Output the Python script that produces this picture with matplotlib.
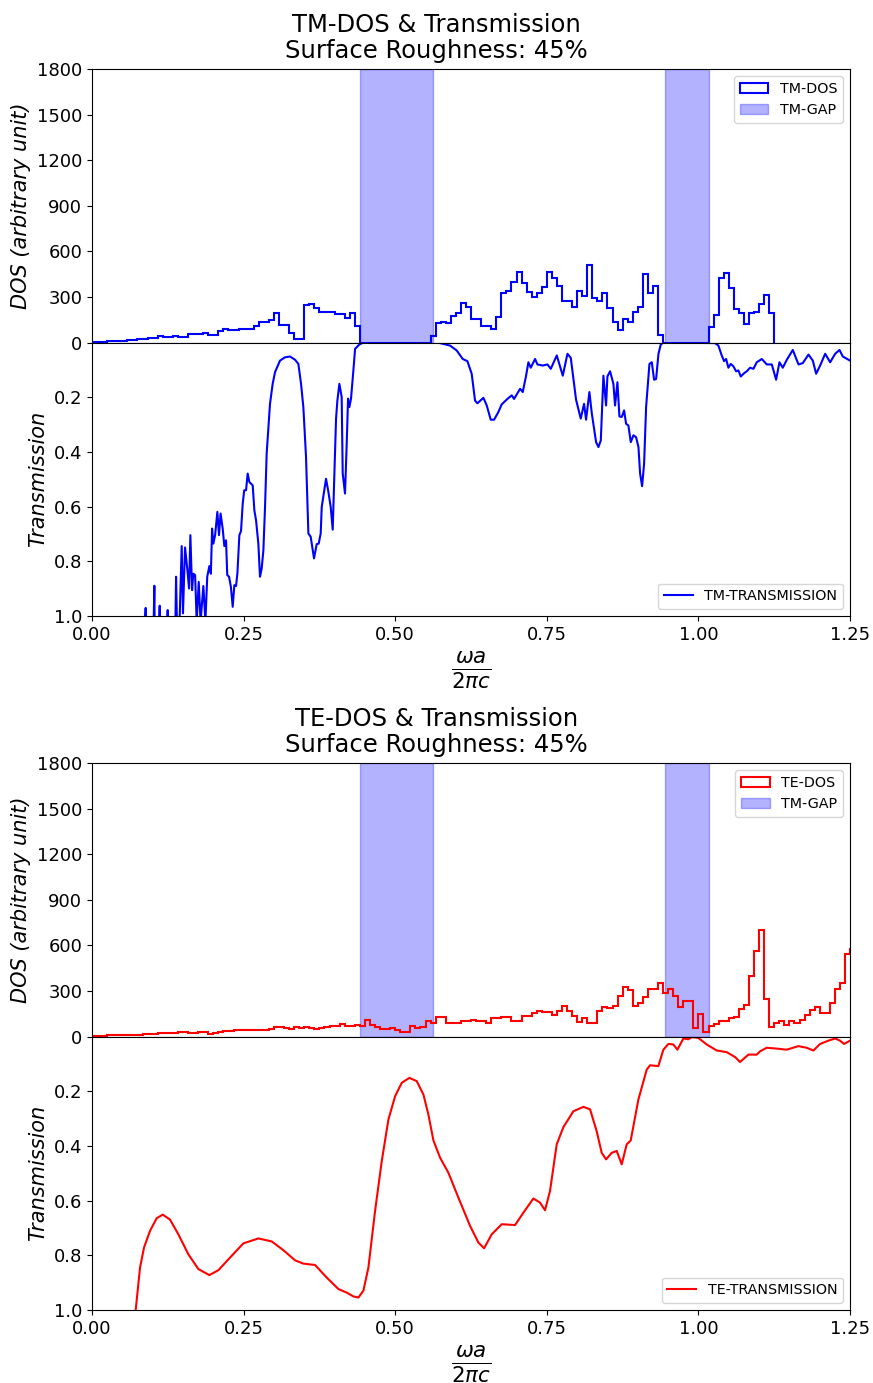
import numpy as np
import matplotlib
matplotlib.use("Agg")
import matplotlib.pyplot as plt

# --- histogram binning of the mode frequencies (omega a / 2 pi c) ---
BIN_WIDTH = 1.25 / 150

# TM density of states per bin (starting at 0)
tm_dos = [2, 3, 3, 10, 10, 10, 10, 17, 17, 24, 24, 33, 33, 40, 35, 35, 44, 35, 35, 59,
          59, 59, 62, 52, 52, 75, 90, 80, 80, 92, 92, 92, 110, 136, 136, 147, 196, 114, 114, 64,
          22, 22, 248, 253, 229, 198, 198, 198, 191, 191, 160, 196, 112,
          0, 0, 0, 0, 0, 0, 0, 0, 0, 0, 0, 0, 0, 0,
          44, 130, 138, 130, 174, 196, 261, 231, 158, 158, 110, 110, 92, 165, 323, 338, 400,
          464, 393, 334, 297, 323, 367, 466, 422, 373, 275, 275, 235, 338, 305, 510, 290, 275,
          327, 228, 135, 81, 158, 136, 202, 235, 450, 327, 371, 48,
          0, 0, 0, 0, 0, 0, 0, 0, 0,
          103, 180, 428, 459, 356, 224, 196, 121, 196, 202, 253, 316, 196]

# TE density of states per bin (starting at 0)
te_dos = [2, 4, 5, 7, 7, 8, 9, 9, 8, 9, 15, 17, 20, 22, 24, 25, 26, 28, 31, 26,
          24, 31, 27, 20, 25, 29, 35, 37, 42, 46, 42, 40, 40, 40, 42, 50, 62, 62, 55, 48,
          62, 55, 60, 55, 53, 55, 62, 68, 72, 81, 70, 72, 77, 70, 110, 77, 60, 48, 52, 55,
          44, 33, 30, 72, 55, 65, 100, 88, 127, 127, 88, 92, 92, 105, 105, 110, 100, 100, 92, 121,
          121, 127, 127, 105, 105, 136, 136, 154, 171, 160, 160, 143, 169, 202, 165, 132, 97, 121, 92, 92,
          165, 193, 187, 204, 264, 327, 305, 202, 220, 262, 310, 310, 352, 286, 310, 264, 193, 235, 235, 55,
          149, 33, 70, 83, 105, 105, 121, 127, 180, 209, 400, 560, 703, 246, 66, 88, 105, 77, 105, 92,
          110, 143, 176, 193, 154, 154, 220, 316, 352, 545, 575]

# TM photonic band gaps
tm_gaps = [(0.442, 0.562), (0.945, 1.017)]

# TM transmission spectrum
tm_freq = [0.000, 0.086, 0.0885, 0.0890, 0.101, 0.1028, 0.1035, 0.110, 0.1116, 0.1122,
           0.123, 0.1248, 0.1254, 0.137, 0.1386, 0.1400, 0.1440, 0.1479, 0.1500, 0.1534,
           0.1573, 0.1600, 0.1622, 0.1650, 0.1670, 0.1700, 0.1726, 0.1760, 0.1790, 0.1836,
           0.1870, 0.1900, 0.1935, 0.1960, 0.1980, 0.2001, 0.2030, 0.2067, 0.2094, 0.2120,
           0.2155, 0.2182, 0.2210, 0.2230, 0.2260, 0.2290, 0.2320, 0.2347, 0.2375, 0.2397,
           0.2430, 0.2457, 0.2485, 0.2510, 0.2540, 0.2567, 0.2595, 0.2650, 0.2677, 0.2705,
           0.2743, 0.2770, 0.2798, 0.2826, 0.2853, 0.2880, 0.2935, 0.2979, 0.3018, 0.3100,
           0.3183, 0.3265, 0.3348, 0.3403, 0.3447, 0.3485, 0.3529, 0.3568, 0.3606, 0.3661,
           0.3705, 0.3738, 0.3771, 0.3788, 0.3859, 0.3898, 0.3936, 0.3969, 0.4024, 0.4046,
           0.4079, 0.4117, 0.4134, 0.4172, 0.4200, 0.4222, 0.4244, 0.4271, 0.4310, 0.4338,
           0.4409, 0.4475, 0.5700, 0.5738, 0.5904, 0.6014, 0.6113, 0.6190, 0.6261, 0.6316,
           0.6355, 0.6454, 0.6509, 0.6575, 0.6630, 0.6701, 0.6756, 0.6850, 0.6921, 0.6960,
           0.7059, 0.7103, 0.7158, 0.7196, 0.7235, 0.7306, 0.7345, 0.7433, 0.7510, 0.7565,
           0.7664, 0.7763, 0.7840, 0.7895, 0.7982, 0.8059, 0.8114, 0.8147, 0.8202, 0.8241,
           0.8312, 0.8351, 0.8390, 0.8433, 0.8477, 0.8499, 0.8543, 0.8598, 0.8625, 0.8664,
           0.8697, 0.8736, 0.8774, 0.8807, 0.8845, 0.8884, 0.8928, 0.8972, 0.9011, 0.9038,
           0.9071, 0.9104, 0.9137, 0.9192, 0.9231, 0.9269, 0.9302, 0.9341, 0.9379, 0.9423,
           1.0274, 1.0329, 1.0384, 1.0423, 1.0456, 1.0494, 1.0533, 1.0577, 1.0621, 1.0659,
           1.0698, 1.0753, 1.0797, 1.0852, 1.0907, 1.0962, 1.1045, 1.1127, 1.1210, 1.1281,
           1.1336, 1.1391, 1.1457, 1.1556, 1.1650, 1.1721, 1.1815, 1.1886, 1.1941, 1.2007,
           1.2090, 1.2172, 1.2255, 1.2326, 1.2381, 1.2500]
tm_trans = [1.10, 1.10, 0.970, 1.10, 1.10, 0.889, 1.10, 1.10, 0.962, 1.10,
            1.10, 0.978, 1.10, 1.10, 0.856, 1.02, 1.05, 0.744, 0.990, 0.749,
            0.832, 0.899, 0.704, 0.905, 0.845, 0.850, 1.02, 0.875, 1.02, 0.890,
            1.02, 0.856, 0.817, 0.845, 0.680, 0.735, 0.704, 0.619, 0.704, 0.625,
            0.680, 0.744, 0.723, 0.850, 0.856, 0.893, 0.966, 0.887, 0.890, 0.845,
            0.704, 0.689, 0.589, 0.540, 0.540, 0.479, 0.510, 0.522, 0.613, 0.650,
            0.735, 0.856, 0.826, 0.759, 0.601, 0.406, 0.224, 0.151, 0.108, 0.066,
            0.054, 0.051, 0.063, 0.078, 0.151, 0.236, 0.418, 0.698, 0.710, 0.789,
            0.737, 0.735, 0.698, 0.601, 0.498, 0.546, 0.601, 0.684, 0.279, 0.212,
            0.151, 0.199, 0.479, 0.552, 0.370, 0.205, 0.236, 0.205, 0.102, 0.023,
            0.007, 0.000, 0.000, 0.002, 0.011, 0.029, 0.060, 0.068, 0.114, 0.212,
            0.222, 0.202, 0.230, 0.282, 0.282, 0.254, 0.226, 0.206, 0.193, 0.206,
            0.169, 0.181, 0.121, 0.072, 0.092, 0.060, 0.080, 0.084, 0.080, 0.096,
            0.047, 0.121, 0.041, 0.056, 0.209, 0.278, 0.224, 0.282, 0.181, 0.258,
            0.364, 0.382, 0.358, 0.121, 0.230, 0.124, 0.105, 0.151, 0.230, 0.145,
            0.270, 0.272, 0.248, 0.297, 0.303, 0.364, 0.339, 0.346, 0.382, 0.479,
            0.525, 0.443, 0.236, 0.078, 0.072, 0.136, 0.133, 0.041, 0.007, 0.000,
            0.002, 0.011, 0.047, 0.068, 0.060, 0.092, 0.078, 0.087, 0.105, 0.102,
            0.124, 0.112, 0.105, 0.092, 0.096, 0.072, 0.060, 0.080, 0.080, 0.136,
            0.072, 0.092, 0.063, 0.027, 0.080, 0.075, 0.044, 0.066, 0.114, 0.084,
            0.041, 0.072, 0.041, 0.027, 0.051, 0.066]

# TE transmission spectrum
te_freq = [0.068, 0.072, 0.0792, 0.0858, 0.0957, 0.1067, 0.1166, 0.1286, 0.1424, 0.1589,
           0.1754, 0.1935, 0.2084, 0.2276, 0.2496, 0.2744, 0.2964, 0.3156, 0.3348, 0.3485,
           0.3678, 0.3870, 0.4063, 0.4200, 0.4310, 0.4393, 0.4475, 0.4558, 0.4668, 0.4778,
           0.4888, 0.4998, 0.5108, 0.5234, 0.5355, 0.5465, 0.5547, 0.5630, 0.5740, 0.5877,
           0.6042, 0.6234, 0.6371, 0.6465, 0.6591, 0.6756, 0.6976, 0.7113, 0.7278, 0.7388,
           0.7470, 0.7553, 0.7663, 0.7773, 0.7938, 0.8103, 0.8213, 0.8322, 0.8405, 0.8477,
           0.8570, 0.8652, 0.8735, 0.8817, 0.8883, 0.9010, 0.9147, 0.9202, 0.9339, 0.9422,
           0.9504, 0.9587, 0.9653, 0.9752, 0.9834, 0.9889, 0.9999, 1.0137, 1.0302, 1.0467,
           1.0604, 1.0686, 1.0824, 1.0961, 1.1016, 1.1126, 1.1291, 1.1456, 1.1648, 1.1786,
           1.1896, 1.2006, 1.2143, 1.2253, 1.2335, 1.2401, 1.2500]
te_trans = [1.10, 1.000, 0.844, 0.771, 0.710, 0.664, 0.651, 0.669, 0.723, 0.796,
            0.850, 0.872, 0.854, 0.808, 0.756, 0.738, 0.749, 0.781, 0.818, 0.830,
            0.835, 0.881, 0.923, 0.936, 0.950, 0.954, 0.929, 0.844, 0.637, 0.455,
            0.303, 0.218, 0.169, 0.151, 0.163, 0.212, 0.285, 0.380, 0.443, 0.498,
            0.589, 0.692, 0.753, 0.774, 0.723, 0.686, 0.689, 0.644, 0.592, 0.607,
            0.635, 0.564, 0.394, 0.331, 0.273, 0.257, 0.266, 0.346, 0.425, 0.449,
            0.425, 0.418, 0.467, 0.394, 0.380, 0.230, 0.121, 0.105, 0.108, 0.048,
            0.027, 0.029, 0.048, 0.007, 0.010, 0.002, 0.005, 0.029, 0.051, 0.057,
            0.075, 0.093, 0.066, 0.066, 0.054, 0.041, 0.044, 0.048, 0.035, 0.041,
            0.051, 0.027, 0.015, 0.007, 0.015, 0.027, 0.015]

ROUGHNESS = 45
X_TICKS = [0.0, 0.25, 0.5, 0.75, 1.0, 1.25]
DOS_TICKS = [0, 300, 600, 900, 1200, 1500, 1800]
T_TICKS = [0.2, 0.4, 0.6, 0.8, 1.0]


def draw_panel(fig, top, pol, dos, freq, trans, color):
    """One DOS histogram stacked over an inverted transmission spectrum."""
    left, width, h = 0.1054, 0.8683, 0.1978
    ax_dos = fig.add_axes([left, top - h, width, h])
    ax_tr = fig.add_axes([left, top - 2 * h, width, h], sharex=ax_dos)

    edges = np.arange(len(dos) + 1) * BIN_WIDTH
    centers = 0.5 * (edges[:-1] + edges[1:])
    ax_dos.hist(centers, bins=edges, weights=dos, histtype='step', color=color,
                linewidth=1.5, label=f'{pol}-DOS')
    for i, (lo, hi) in enumerate(tm_gaps):
        ax_dos.axvspan(lo, hi, color='blue', alpha=0.3, label='TM-GAP' if i == 0 else None)
    ax_dos.set_ylim(0, 1800)
    ax_dos.set_yticks(DOS_TICKS)
    ax_dos.set_ylabel('DOS (arbitrary unit)', fontsize=15, style='italic')
    ax_dos.tick_params(axis='x', bottom=False, labelbottom=False)
    ax_dos.tick_params(axis='y', labelsize=13)
    ax_dos.legend(loc='upper right', fontsize=10.3)

    # panel heading, centred on the figure
    fig.text(0.5, top + 11 / 1383, f'{pol}-DOS & Transmission\nSurface Roughness: {ROUGHNESS}%',
             ha='center', va='baseline', fontsize=17.5, linespacing=1.1)

    ax_tr.plot(freq, trans, color=color, linewidth=1.5, label=f'{pol}-TRANSMISSION')
    ax_tr.set_ylim(1.0, 0.0)
    ax_tr.set_yticks(T_TICKS)
    ax_tr.set_xlim(0, 1.25)
    ax_tr.set_xticks(X_TICKS)
    ax_tr.set_xticklabels([f'{t:.2f}' for t in X_TICKS])
    ax_tr.tick_params(labelsize=13)
    ax_tr.set_ylabel('Transmission', fontsize=15, style='italic')
    ax_tr.set_xlabel(r'$\frac{\omega a}{2\pi c}$', fontsize=22)
    ax_tr.legend(loc='lower right', fontsize=10.3)
    return ax_dos, ax_tr


fig = plt.figure(figsize=(8.73, 13.83), dpi=100)
draw_panel(fig, 1 - 69 / 1383, 'TM', tm_dos, tm_freq, tm_trans, 'blue')
draw_panel(fig, 1 - 763 / 1383, 'TE', te_dos, te_freq, te_trans, 'red')
fig.savefig('out.png', dpi=100)
